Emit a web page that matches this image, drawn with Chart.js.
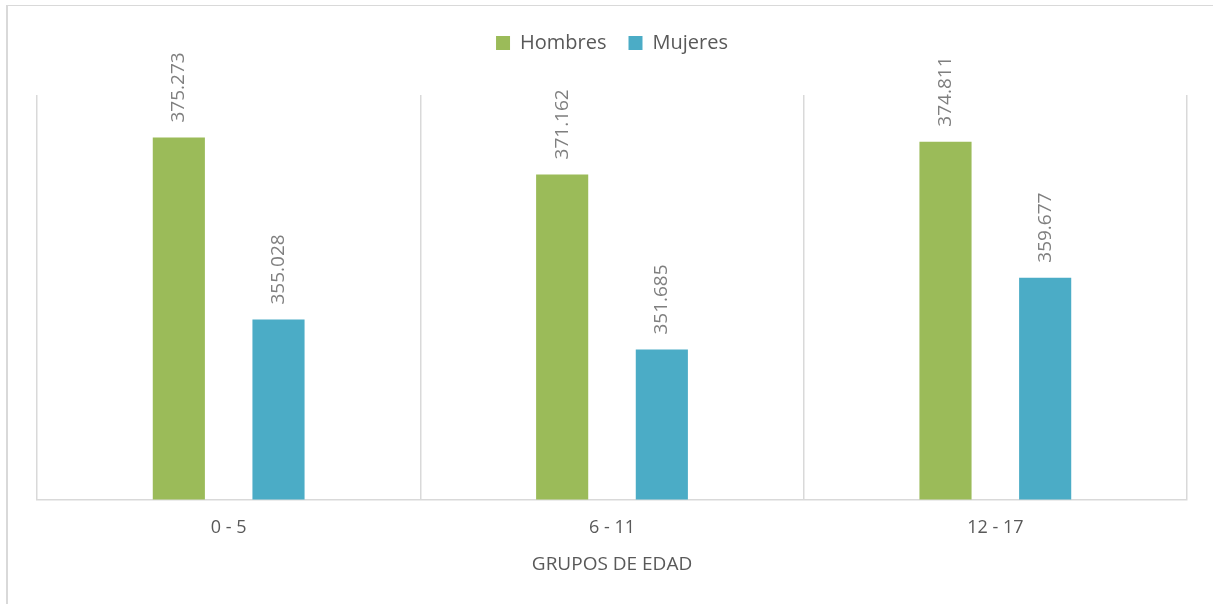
<!DOCTYPE html>
<html>
<head>
<meta charset="utf-8">
<script src="https://cdn.jsdelivr.net/npm/chart.js@4"></script>
<style>
    html, body { margin: 0; padding: 0; background: #fff; overflow: hidden; }
    #wrap { position: relative; width: 1213px; height: 604px; }
    #frame {
        position: absolute; left: 6px; top: 5px; width: 1230px; height: 640px;
        border-top: 1.5px solid #d9d9d9; border-left: 2px solid #d9d9d9;
    }
    canvas { position: absolute; left: 0; top: 0; }
</style>
</head>
<body>
<div id="wrap">
    <div id="frame"></div>
    <canvas id="chart" width="1213" height="604"></canvas>
</div>
<script>
// Chart data
const groups = ['0 - 5', '6 - 11', '12 - 17'];
const hombres = [375273, 371162, 374811];
const mujeres = [355028, 351685, 359677];

// Format number with dot as thousands separator
function formatNumber(value) {
    return String(value).replace(/\B(?=(\d{3})+(?!\d))/g, '.');
}

// Push the plot area down below the legend
const legendGap = {
    id: 'legendGap',
    beforeInit(chart) {
        const fit = chart.legend.fit;
        chart.legend.fit = function () {
            fit.bind(chart.legend)();
            this.height += 32;
        };
    }
};

// Rotated value labels above each bar
const barLabels = {
    id: 'barLabels',
    afterDatasetsDraw(chart) {
        const ctx = chart.ctx;
        chart.data.datasets.forEach((dataset, i) => {
            const meta = chart.getDatasetMeta(i);
            meta.data.forEach((bar, j) => {
                ctx.save();
                ctx.translate(bar.x, bar.y - 15);
                ctx.rotate(-Math.PI / 2);
                ctx.font = '19px "Open Sans"';
                ctx.fillStyle = '#7f7f7f';
                ctx.textAlign = 'left';
                ctx.textBaseline = 'middle';
                ctx.fillText(formatNumber(dataset.data[j]), 0, 0);
                ctx.restore();
            });
        });
    }
};

const chartCanvas = document.getElementById('chart');

new Chart(chartCanvas, {
    type: 'bar',
    data: {
        labels: groups,
        datasets: [
            {
                label: 'Hombres',
                data: hombres,
                backgroundColor: '#9BBB59',
                categoryPercentage: 0.52,
                barPercentage: 0.523
            },
            {
                label: 'Mujeres',
                data: mujeres,
                backgroundColor: '#4BACC6',
                categoryPercentage: 0.52,
                barPercentage: 0.523
            }
        ]
    },
    options: {
        responsive: false,
        animation: false,
        layout: {
            padding: { left: 37, right: 26, top: 11, bottom: 28 }
        },
        scales: {
            y: {
                display: false,
                min: 335000,
                max: 380000
            },
            x: {
                grid: {
                    color: '#d9d9d9',
                    lineWidth: 1.5,
                    drawTicks: false
                },
                border: {
                    color: '#d9d9d9',
                    width: 1.5
                },
                ticks: {
                    color: '#595959',
                    padding: 17,
                    font: { family: 'Open Sans', size: 18 }
                },
                title: {
                    display: true,
                    text: 'GRUPOS DE EDAD',
                    color: '#595959',
                    padding: { top: -2, bottom: 0 },
                    font: { family: 'Open Sans', size: 19 }
                }
            }
        },
        plugins: {
            legend: {
                position: 'top',
                labels: {
                    boxWidth: 14,
                    boxHeight: 14,
                    padding: 22,
                    color: '#595959',
                    font: { family: 'Open Sans', size: 20 }
                }
            },
            tooltip: { enabled: false }
        }
    },
    plugins: [legendGap, barLabels]
});
</script>
</body>
</html>
